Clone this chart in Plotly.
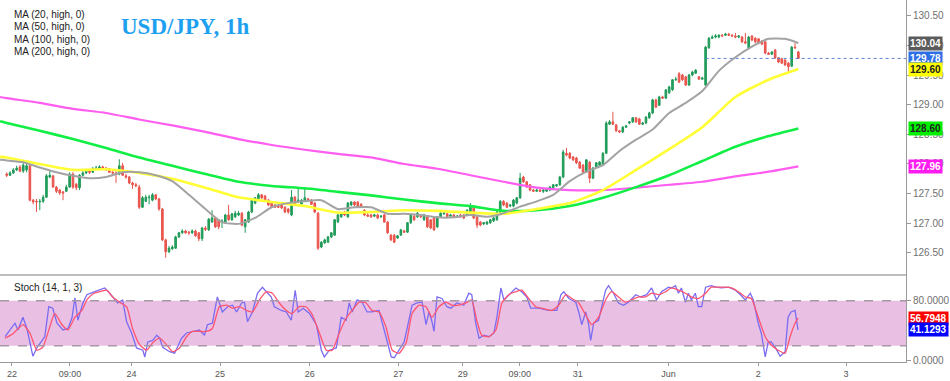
import plotly.graph_objects as go

# ---------------- data ----------------
opens = [127.83,127.81,127.85,127.90,127.95,127.88,127.90,127.97,127.39,127.37,
127.36,127.37,127.44,127.78,127.80,127.61,127.56,127.53,127.54,127.61,
127.83,127.66,127.60,127.81,127.85,127.88,127.86,127.92,127.93,127.95,
127.93,127.92,127.86,127.85,127.83,127.97,127.80,127.78,127.68,127.65,
127.61,127.27,127.37,127.43,127.39,127.48,127.41,127.24,126.72,126.52,
126.57,126.58,126.77,126.84,126.87,126.85,126.84,126.87,126.84,126.74,
126.92,126.89,127.02,127.09,127.06,127.02,127.01,127.14,127.06,127.11,
127.14,127.17,126.94,127.02,127.19,127.34,127.39,127.48,127.46,127.39,
127.34,127.31,127.29,127.31,127.27,127.24,127.14,127.44,127.37,127.32,
127.37,127.41,127.39,127.34,127.17,126.60,126.67,126.68,126.77,126.80,
127.02,127.11,127.19,127.11,127.31,127.36,127.36,127.32,127.22,127.14,
127.14,127.12,127.14,127.11,127.14,127.02,126.80,126.80,126.75,126.80,
126.87,126.85,127.01,127.12,127.11,127.12,127.06,127.11,127.06,127.09,
126.94,127.11,127.16,127.16,127.12,127.14,127.11,127.14,127.14,127.14,
127.19,127.27,127.11,127.02,126.99,126.99,127.01,127.04,127.06,127.19,
127.37,127.34,127.29,127.29,127.34,127.43,127.78,127.70,127.65,127.56,
127.54,127.56,127.54,127.54,127.56,127.60,127.63,127.65,127.78,128.18,
128.18,128.12,128.10,128.03,127.98,127.86,128.03,127.76,127.95,127.98,
127.98,128.18,128.67,128.71,128.66,128.56,128.54,128.62,128.69,128.71,
128.78,128.76,128.67,128.69,128.78,128.86,129.08,128.99,129.13,129.11,
129.20,129.25,129.42,129.52,129.50,129.47,129.33,129.50,129.53,129.47,
129.43,129.33,129.96,130.12,130.14,130.14,130.17,130.17,130.19,130.17,
130.16,130.14,130.14,130.06,129.96,130.16,130.12,130.11,130.07,130.06,
129.87,129.85,129.92,129.79,129.77,129.75,129.70,129.65,129.97,129.89]

closes = [127.81,127.85,127.90,127.93,127.88,127.98,127.97,127.39,127.36,127.36,
127.37,127.44,127.80,127.81,127.61,127.54,127.51,127.51,127.61,127.83,
127.61,127.60,127.81,127.85,127.88,127.86,127.92,127.93,127.95,127.93,
127.92,127.86,127.85,127.83,127.97,127.81,127.78,127.68,127.65,127.63,
127.27,127.43,127.44,127.44,127.48,127.41,127.24,126.72,126.52,126.58,
126.60,126.77,126.84,126.87,126.84,126.84,126.87,126.79,126.74,126.92,
126.90,127.07,127.09,126.94,126.94,127.04,127.14,127.06,127.16,127.17,
127.17,126.97,127.06,127.19,127.39,127.43,127.48,127.43,127.39,127.31,
127.27,127.27,127.27,127.26,127.19,127.19,127.44,127.31,127.39,127.39,
127.43,127.39,127.32,127.19,126.58,126.68,126.72,126.77,126.84,127.06,
127.14,127.17,127.14,127.34,127.36,127.31,127.27,127.27,127.14,127.12,
127.11,127.14,127.09,127.12,127.02,126.84,126.72,126.68,126.79,126.89,
126.85,127.01,127.14,127.06,127.17,127.11,127.14,126.94,126.92,126.89,
127.11,127.17,127.17,127.11,127.14,127.11,127.12,127.11,127.09,127.22,
127.27,127.09,126.97,126.97,127.01,127.02,127.06,127.09,127.19,127.37,
127.31,127.27,127.31,127.39,127.43,127.76,127.70,127.61,127.56,127.54,
127.56,127.54,127.56,127.58,127.61,127.65,127.65,127.78,128.20,128.15,
128.10,128.07,128.02,127.93,127.86,128.07,127.76,127.93,128.02,128.03,
128.18,128.69,128.71,128.67,128.56,128.54,128.62,128.64,128.71,128.78,
128.71,128.67,128.69,128.79,128.86,129.08,128.96,129.13,129.11,129.25,
129.30,129.42,129.43,129.38,129.42,129.33,129.50,129.55,129.58,129.43,
129.45,129.97,130.12,130.14,130.16,130.17,130.16,130.19,130.17,130.16,
130.14,130.16,130.06,130.04,130.14,130.09,130.06,130.04,130.02,129.87,
129.85,129.89,129.79,129.72,129.70,129.67,129.64,129.97,129.96,129.78]

highs = [127.86,127.88,127.93,127.97,127.98,128.05,128.00,128.00,127.41,127.41,
127.41,127.48,127.83,127.90,127.81,127.63,127.58,127.54,127.65,127.86,
127.86,127.68,127.83,127.88,127.92,127.90,127.95,127.97,127.98,127.97,
127.95,127.93,127.88,127.88,128.08,128.02,127.83,127.80,127.70,127.68,
127.65,127.46,127.48,127.48,127.51,127.49,127.43,127.26,126.74,126.62,
126.63,126.79,126.85,126.90,126.89,126.87,126.90,126.89,126.85,126.94,
126.95,127.09,127.22,127.11,127.07,127.07,127.16,127.31,127.17,127.21,
127.21,127.19,127.07,127.21,127.41,127.44,127.51,127.49,127.48,127.41,
127.36,127.32,127.32,127.32,127.29,127.26,127.56,127.46,127.60,127.41,
127.60,127.43,127.41,127.36,127.19,126.70,126.74,126.79,126.85,127.07,
127.16,127.19,127.21,127.36,127.37,127.37,127.37,127.34,127.24,127.17,
127.16,127.16,127.16,127.14,127.16,127.04,126.82,126.82,126.80,126.90,
126.89,127.02,127.16,127.14,127.19,127.14,127.16,127.12,127.07,127.11,
127.12,127.19,127.19,127.17,127.16,127.16,127.14,127.16,127.16,127.24,
127.34,127.29,127.12,127.04,127.02,127.04,127.07,127.11,127.21,127.39,
127.39,127.36,127.32,127.41,127.44,127.85,127.80,127.71,127.66,127.58,
127.58,127.58,127.58,127.60,127.63,127.66,127.66,127.80,128.24,128.27,
128.20,128.13,128.12,128.05,128.00,128.08,128.05,127.95,128.03,128.05,
128.20,128.72,128.74,128.88,128.67,128.57,128.64,128.66,128.72,128.79,
128.79,128.78,128.71,128.81,128.88,129.10,129.10,129.15,129.15,129.26,
129.32,129.43,129.47,129.55,129.52,129.48,129.52,129.57,129.60,129.48,
129.47,129.99,130.14,130.17,130.19,130.19,130.19,130.21,130.21,130.19,
130.21,130.17,130.16,130.21,130.16,130.17,130.14,130.12,130.09,130.07,
129.89,129.90,129.94,129.80,129.79,129.77,129.72,129.99,130.04,129.90]

lows = [127.78,127.80,127.83,127.88,127.86,127.85,127.86,127.37,127.32,127.19,
127.22,127.34,127.43,127.76,127.60,127.51,127.48,127.39,127.53,127.60,
127.58,127.56,127.56,127.80,127.83,127.83,127.85,127.90,127.90,127.92,
127.88,127.85,127.81,127.68,127.81,127.80,127.75,127.66,127.58,127.61,
127.24,127.26,127.36,127.32,127.37,127.39,127.21,126.70,126.42,126.50,
126.55,126.57,126.75,126.82,126.82,126.80,126.82,126.77,126.70,126.70,
126.87,126.87,127.01,126.92,126.90,126.92,126.99,127.04,127.04,127.09,
127.12,126.95,126.84,127.01,127.17,127.32,127.37,127.41,127.37,127.29,
127.26,127.26,127.26,127.24,127.17,127.16,127.12,127.29,127.34,127.31,
127.36,127.36,127.31,127.17,126.55,126.58,126.65,126.67,126.75,126.79,
127.01,127.09,127.12,127.09,127.29,127.29,127.26,127.26,127.12,127.11,
127.09,127.11,127.07,127.09,127.01,126.82,126.70,126.67,126.74,126.79,
126.84,126.84,126.99,127.04,127.09,127.09,127.04,126.92,126.90,126.87,
126.92,127.09,127.14,127.09,127.11,127.09,127.09,127.09,127.07,127.12,
127.17,127.07,126.92,126.95,126.97,126.97,126.99,127.02,127.04,127.17,
127.29,127.26,127.27,127.27,127.32,127.41,127.68,127.60,127.54,127.53,
127.53,127.53,127.51,127.53,127.54,127.58,127.61,127.63,127.76,128.13,
128.08,128.05,128.00,127.92,127.85,127.85,127.68,127.75,127.93,127.97,
127.97,128.17,128.66,128.66,128.54,128.52,128.52,128.61,128.67,128.69,
128.69,128.66,128.66,128.67,128.76,128.84,128.94,128.98,129.10,129.10,
129.18,129.23,129.40,129.37,129.40,129.32,129.32,129.48,129.52,129.42,
129.42,129.32,129.94,130.11,130.12,130.12,130.14,130.16,130.16,130.14,
130.12,130.12,130.04,130.02,129.94,130.07,130.04,130.02,130.01,129.85,
129.84,129.84,129.77,129.70,129.69,129.65,129.55,129.64,129.94,129.77]

# moving averages at these bar positions
ma20_idx = [-2, 0] + list(range(5, 240, 5)) + [239]
ma20 = [128.07,128.06,128.03,127.94,127.86,127.80,127.76,127.78,127.86,127.86,
127.81,127.71,127.48,127.24,127.02,126.99,127.09,127.27,127.34,127.37,
127.39,127.24,127.27,127.27,127.16,127.16,127.14,127.10,127.10,127.14,
127.11,127.17,127.28,127.37,127.48,127.71,127.87,127.98,128.22,128.41,
128.58,128.86,129.03,129.23,129.57,129.80,129.98,130.11,130.11,130.04]
ma_idx = [-2, 0] + list(range(10, 240, 10)) + [239]
ma50 = [128.12,128.11,128.00,127.90,127.91,127.85,127.75,127.60,127.44,127.36,
127.29,127.18,127.19,127.22,127.21,127.18,127.16,127.24,127.34,127.56,
127.90,128.25,128.62,129.13,129.42,129.60]
ma100 = [128.72,128.69,128.56,128.42,128.27,128.11,127.97,127.83,127.70,127.63,
127.59,127.53,127.47,127.40,127.34,127.29,127.21,127.22,127.29,127.43,
127.61,127.81,128.05,128.29,128.47,128.60]
ma200 = [129.13,129.11,129.03,128.93,128.86,128.75,128.65,128.54,128.42,128.32,
128.24,128.17,128.11,128.00,127.92,127.81,127.70,127.60,127.56,127.56,
127.60,127.65,127.70,127.79,127.87,127.96]

# stochastic (14,1,3)
k_idx = [-0.5,1.0,2.5,3.4,4.9,6.1,7.0,7.9,9.1,11.5,
12.7,13.9,15.2,17.0,18.5,19.7,20.6,21.5,23.0,24.2,
26.6,28.1,29.6,31.1,33.5,35.0,36.2,37.7,39.2,41.1,
41.7,42.6,44.1,45.3,46.2,47.1,49.2,50.7,52.8,54.3,
56.1,58.2,59.7,60.6,62.1,63.6,65.1,66.7,68.2,69.4,
70.9,71.8,72.7,74.2,75.7,77.2,78.4,79.9,80.8,82.9,
84.4,85.9,87.1,88.0,89.5,91.4,93.5,95.0,95.9,97.4,
99.5,101.0,102.5,103.4,104.3,105.8,107.3,108.8,110.3,112.4,
114.5,116.1,117.0,118.5,120.0,122.4,123.9,125.4,126.6,127.5,
128.4,129.0,129.9,131.4,132.9,134.1,135.9,138.0,139.5,140.4,
141.6,142.6,144.1,145.6,147.1,148.0,149.2,150.1,151.6,153.7,
155.5,157.0,158.2,160.6,163.6,166.1,167.3,168.2,169.7,171.8,
172.7,173.6,174.8,175.7,176.3,177.2,178.7,179.6,180.8,181.7,
183.2,184.7,186.2,187.7,189.9,191.4,193.2,194.7,196.2,197.7,
199.8,200.7,201.9,202.8,203.7,204.9,205.8,206.7,207.9,208.8,
209.8,211.0,212.7,214.2,215.8,217.9,220.0,221.5,223.0,224.5,
225.4,226.9,227.8,229.0,229.9,230.8,232.0,233.5,235.0,235.9,
236.8,238.0,238.9]
k_val = [32,41,50,41,58,43,24,6,17,32,
72,70,50,41,43,57,84,54,77,88,
92,94,97,90,77,81,52,37,17,14,
5,25,27,34,30,18,12,10,30,37,
39,41,34,48,50,85,65,72,74,65,
77,78,52,65,90,98,92,85,72,67,
65,54,94,65,70,63,48,14,5,14,
17,58,54,77,65,81,78,65,65,67,
32,5,4,14,25,74,77,78,48,65,
52,39,85,83,72,70,77,74,90,88,
50,30,34,32,37,58,97,81,88,97,
92,85,70,70,67,67,88,92,83,78,
65,48,65,48,27,50,54,72,94,100,
90,77,74,78,88,85,88,97,81,92,
98,97,100,90,97,78,90,81,90,72,
72,98,100,98,97,98,94,88,81,90,
81,50,37,5,25,25,18,6,12,58,
65,67,41.1293]
d_idx = [-0.5,1.9,4.9,7.0,9.1,10.9,13.0,14.5,16.7,18.5,
20.6,22.7,24.2,26.0,28.1,30.2,32.0,34.1,36.2,38.0,
40.2,42.3,44.1,46.2,48.3,50.1,52.2,54.3,56.1,58.2,
60.3,62.1,64.2,66.4,68.2,70.3,72.4,74.2,76.3,78.4,
80.2,82.3,84.4,86.2,88.3,90.4,92.3,94.4,96.5,98.3,
100.4,102.5,104.3,106.4,108.5,110.3,112.4,114.5,116.4,118.5,
120.6,122.4,124.5,126.6,128.4,130.5,132.6,134.4,136.5,138.6,
140.4,141.9,143.4,145.6,147.7,149.5,151.6,153.7,155.5,157.6,
159.7,161.5,164.5,166.6,168.8,170.6,172.7,174.8,176.6,178.7,
180.8,182.6,184.7,186.8,188.6,190.8,192.9,194.7,196.8,198.9,
200.7,202.8,204.9,206.7,208.8,211.0,212.7,214.8,216.9,218.8,
220.9,223.0,224.8,226.9,229.0,230.8,232.9,235.0,236.5,238.0,
238.9]
d_val = [30,36,48,37,14,18,45,63,48,41,
58,67,81,89,92,94,85,78,72,43,
21,14,24,30,21,12,17,32,39,39,
39,43,72,74,70,72,67,65,81,92,
90,77,67,63,72,72,61,37,14,14,
37,57,67,78,77,67,65,45,14,10,
24,63,74,72,58,72,78,74,74,77,
81,54,34,32,41,77,88,92,94,83,
72,70,67,74,88,83,77,61,48,58,
81,92,85,78,81,85,85,90,88,92,
97,94,90,85,83,90,98,98,98,97,
92,85,83,58,32,21,14,10,32,50,
56.7948]

tick_idx = [1.6, 19.1, 37.7, 64.4, 91.5, 118.2, 137.7, 154.9, 172.4, 199.8, 226.9, 253.4]
tick_text = ["22", "09:00", "24", "25", "26", "27", "29", "09:00", "31", "Jun", "2", "3"]
price_ticks = [126.5, 127.0, 127.5, 128.0, 128.5, 129.0, 129.5, 130.0, 130.5]
stoch_levels = [20, 80]
last_price = 129.78
price_line_start = 211
legend_lines = ["MA (20, high, 0)", "MA (50, high, 0)", "MA (100, high, 0)", "MA (200, high, 0)"]

assert len(opens) == len(closes) == len(highs) == len(lows)
assert len(ma20_idx) == len(ma20)
assert len(ma_idx) == len(ma50) == len(ma100) == len(ma200)
assert len(k_idx) == len(k_val) and len(d_idx) == len(d_val)

bars = list(range(len(closes)))

# ---------------- figure ----------------
W, H = 950, 381
ML, MR, MT, MB = 0, 42, 0, 19
plot_h = H - MT - MB
split = (plot_h - 275) / plot_h  # main panel bottom in paper coords

X_RANGE = [-2.02, 271.5]
Y_RANGE = [126.128, 130.765]
S_RANGE = [-1.7, 114.3]

fig = go.Figure()

fig.add_trace(go.Candlestick(
    x=bars, open=opens, high=highs, low=lows, close=closes,
    increasing=dict(line=dict(color="#1f9a58", width=1), fillcolor="#23a05d"),
    decreasing=dict(line=dict(color="#e8534b", width=1), fillcolor="#ee5a52"),
    whiskerwidth=0, showlegend=False, xaxis="x", yaxis="y", hoverinfo="skip"))

ma_styles = [
    (ma_idx, ma200, "#ff5cf0", 2.2),
    (ma_idx, ma100, "#11ee44", 2.6),
    (ma_idx, ma50, "#ffff33", 2.6),
    (ma20_idx, ma20, "#a3a3a3", 2.0),
]
for xs, ys, col, w in ma_styles:
    fig.add_trace(go.Scatter(x=xs, y=ys, mode="lines",
                             line=dict(color=col, width=w, shape="spline", smoothing=0.6),
                             showlegend=False, xaxis="x", yaxis="y", hoverinfo="skip"))

# stochastic
fig.add_trace(go.Scatter(x=k_idx, y=k_val, mode="lines",
                         line=dict(color="#7a6cf2", width=1.3),
                         showlegend=False, xaxis="x", yaxis="y2", hoverinfo="skip"))
fig.add_trace(go.Scatter(x=d_idx, y=d_val, mode="lines",
                         line=dict(color="#ff5470", width=1.3, shape="spline", smoothing=0.5),
                         showlegend=False, xaxis="x", yaxis="y2", hoverinfo="skip"))

shapes = [
    # stochastic band
    dict(type="rect", xref="paper", yref="y2", x0=0, x1=1, y0=stoch_levels[0], y1=stoch_levels[1],
         fillcolor="#e9c0e4", line=dict(width=0), layer="below"),
    dict(type="line", xref="paper", yref="y2", x0=0, x1=1, y0=stoch_levels[0], y1=stoch_levels[0],
         line=dict(color="#a897a6", width=1.5, dash="dash")),
    dict(type="line", xref="paper", yref="y2", x0=0, x1=1, y0=stoch_levels[1], y1=stoch_levels[1],
         line=dict(color="#a897a6", width=1.5, dash="dash")),
    # panel separator
    dict(type="line", xref="paper", yref="paper", x0=0, x1=1, y0=split, y1=split,
         line=dict(color="#a9a9a9", width=1.5)),
    # current price dotted line
    dict(type="line", xref="x", yref="y", x0=price_line_start, x1=X_RANGE[1],
         y0=last_price, y1=last_price, line=dict(color="#5a7fd8", width=1, dash="dot")),
]

annotations = []
# legend lines
for i, t in enumerate(legend_lines):
    annotations.append(dict(xref="paper", yref="paper", x=12 / (W - MR), xanchor="left",
                            y=1 - (15 + 12 * i) / plot_h, yanchor="middle", text=t, showarrow=False,
                            font=dict(family="Liberation Sans, Arial, sans-serif", size=10, color="#222")))
annotations.append(dict(xref="paper", yref="paper", x=119 / (W - MR), xanchor="left",
                        y=1 - 27 / plot_h, yanchor="middle", text="<b>USD/JPY, 1h</b>", showarrow=False,
                        font=dict(family="Liberation Serif, DejaVu Serif, serif", size=23, color="#1ea0f0")))
annotations.append(dict(xref="paper", yref="paper", x=12 / (W - MR), xanchor="left",
                        y=1 - 287 / plot_h, yanchor="middle", text="Stoch (14, 1, 3)", showarrow=False,
                        font=dict(family="Liberation Sans, Arial, sans-serif", size=10, color="#222")))

# value tags on the right axis
tags = [
    ("y", ma20[-1], "%.2f", "#5b5b5b", "white"),
    ("y", last_price, "%.2f", "#2f6fe6", "white"),
    ("y", ma50[-1], "%.2f", "#ffff00", "#222"),
    ("y", ma100[-1], "%.2f", "#00f000", "#222"),
    ("y", ma200[-1], "%.2f", "#ff1cf0", "white"),
    ("y2", d_val[-1], "%.4f", "#ff0000", "white"),
    ("y2", k_val[-1], "%.4f", "#0000ff", "white"),
]
for yref, v, fmt, bg, fg in tags:
    annotations.append(dict(xref="paper", yref=yref, x=1, xanchor="left", xshift=2,
                            y=v, yanchor="middle", text="<b>" + (fmt % v) + "</b>", showarrow=False,
                            bgcolor=bg, borderpad=1,
                            font=dict(family="Liberation Sans, Arial, sans-serif", size=10, color=fg)))

axis_font = dict(family="Liberation Sans, Arial, sans-serif", size=10, color="#707070")

fig.update_layout(
    width=W, height=H,
    margin=dict(l=ML, r=MR, t=MT, b=MB, pad=0),
    paper_bgcolor="white", plot_bgcolor="white",
    showlegend=False,
    shapes=shapes, annotations=annotations,
    xaxis=dict(domain=[0, 1], anchor="y2", range=X_RANGE, rangeslider=dict(visible=False),
               showgrid=False, zeroline=False, showline=True, linecolor="#9a9a9a", linewidth=1,
               ticks="outside", ticklen=3, tickcolor="#9a9a9a",
               tickvals=tick_idx, ticktext=tick_text,
               tickfont=dict(family="Liberation Sans Narrow, Liberation Sans, Arial, sans-serif",
                             size=9, color="#555")),
    yaxis=dict(domain=[split, 1], anchor="x", side="right", range=Y_RANGE,
               showgrid=False, zeroline=False, showline=True, linecolor="#9a9a9a", linewidth=1,
               ticks="outside", ticklen=4, tickcolor="#9a9a9a",
               tickvals=price_ticks, ticktext=["%.2f" % v for v in price_ticks],
               tickfont=axis_font),
    yaxis2=dict(domain=[0, split], anchor="x", side="right", range=S_RANGE,
                showgrid=False, zeroline=False, showline=True, linecolor="#9a9a9a", linewidth=1,
                ticks="outside", ticklen=4, tickcolor="#9a9a9a",
                tickvals=[0, 80], ticktext=["0.0000", "80.0000"],
                tickfont=axis_font),
)

# remove the browser's default 8px page margin so the figure sits at the window's corner
fig.write_html("out.html",
               config={"displayModeBar": False, "staticPlot": True},
               post_script="document.body.style.margin='0px'; document.body.style.overflow='hidden';")
